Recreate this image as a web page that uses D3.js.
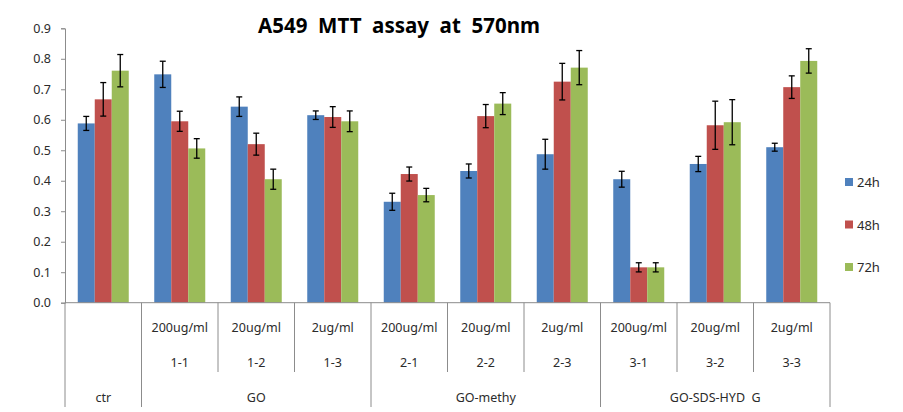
<!DOCTYPE html>
<html><head><meta charset="utf-8">
<script src="https://cdn.jsdelivr.net/npm/d3@7"></script>
<style>body{margin:0;background:#fff}svg{display:block}</style>
</head><body>
<svg id="c" width="903" height="412"></svg>
<script>
const title = "A549  MTT  assay  at  570nm";
const categories = ["ctr","1-1","1-2","1-3","2-1","2-2","2-3","3-1","3-2","3-3"];
const doseLabels = ["","200ug/ml","20ug/ml","2ug/ml","200ug/ml","20ug/ml","2ug/ml","200ug/ml","20ug/ml","2ug/ml"];
const codeLabels = ["","1-1","1-2","1-3","2-1","2-2","2-3","3-1","3-2","3-3"];
const groupNames = ["ctr","GO","GO-methy","GO-SDS-HYD  G"];
const groupSizes = [1,3,3,3];
const seriesNames = ["24h","48h","72h"];
const seriesColors = ["#4F81BD","#C0504D","#9BBB59"];
const values24 = [0.588,0.749,0.643,0.615,0.331,0.432,0.487,0.405,0.455,0.510];
const values48 = [0.667,0.595,0.520,0.609,0.422,0.612,0.725,0.116,0.582,0.707];
const values72 = [0.761,0.506,0.405,0.595,0.353,0.653,0.771,0.116,0.592,0.793];
const err24 = [0.023,0.043,0.032,0.014,0.028,0.023,0.049,0.026,0.025,0.013];
const err48 = [0.055,0.033,0.036,0.034,0.023,0.038,0.060,0.015,0.079,0.037];
const err72 = [0.053,0.032,0.033,0.034,0.022,0.036,0.056,0.015,0.074,0.040];
const yTicks = [0,0.1,0.2,0.3,0.4,0.5,0.6,0.7,0.8,0.9];

const svg = d3.select("#c");
const font = "'Noto Sans', 'DejaVu Sans', sans-serif";
const axisColor = "#8c8c8c";
const textColor = "#2b2b2b";

const x0 = d3.scaleBand().domain(categories).range([65, 830]).padding(0);
const bw = x0.bandwidth();
const x1 = d3.scaleBand().domain(seriesNames)
  .range([bw * 0.75 / 4.5, bw - bw * 0.75 / 4.5]).padding(0);
const y = d3.scaleLinear().domain([0, 0.9]).range([302.7, 28.3]);

// y axis
const yAxis = d3.axisLeft(y).tickValues(yTicks).tickFormat(d3.format(".1f")).tickSize(4).tickPadding(10);
const gy = svg.append("g").attr("transform", "translate(65,0)").call(yAxis);
gy.select(".domain").attr("stroke", axisColor);
gy.selectAll(".tick line").attr("stroke", axisColor);
gy.selectAll(".tick text").attr("font-family", font).attr("font-size", 12.5).attr("fill", textColor);

// bars
const series = [
  {name: seriesNames[0], vals: values24, errs: err24, color: seriesColors[0]},
  {name: seriesNames[1], vals: values48, errs: err48, color: seriesColors[1]},
  {name: seriesNames[2], vals: values72, errs: err72, color: seriesColors[2]}
];
const barsG = svg.append("g");
series.forEach(s => {
  const g = barsG.append("g");
  g.selectAll("rect").data(categories).join("rect")
    .attr("x", c => x0(c) + x1(s.name))
    .attr("width", x1.bandwidth())
    .attr("y", (c, i) => y(s.vals[i]))
    .attr("height", (c, i) => y(0) - y(s.vals[i]))
    .attr("fill", s.color);
});
// error bars
series.forEach(s => {
  const g = barsG.append("g").attr("stroke", "#000").attr("stroke-width", 1.3);
  categories.forEach((c, i) => {
    const cx = x0(c) + x1(s.name) + x1.bandwidth() / 2;
    const top = y(s.vals[i] + s.errs[i]), bot = y(s.vals[i] - s.errs[i]);
    g.append("line").attr("x1", cx).attr("x2", cx).attr("y1", top).attr("y2", bot);
    g.append("line").attr("x1", cx - 3).attr("x2", cx + 3).attr("y1", top).attr("y2", top);
    g.append("line").attr("x1", cx - 3).attr("x2", cx + 3).attr("y1", bot).attr("y2", bot);
  });
});

// x axis baseline
const y0 = y(0);
svg.append("line").attr("x1", 65).attr("x2", 830).attr("y1", y0).attr("y2", y0).attr("stroke", axisColor);

// category separators
const groupStarts = [];
let acc = 0;
groupSizes.forEach(n => { groupStarts.push(acc); acc += n; });
const boundaries = d3.range(categories.length + 1);
svg.append("g").selectAll("line").data(boundaries).join("line")
  .attr("x1", i => i < categories.length ? x0(categories[i]) : x0(categories[i-1]) + bw)
  .attr("x2", i => i < categories.length ? x0(categories[i]) : x0(categories[i-1]) + bw)
  .attr("y1", y0)
  .attr("y2", i => (groupStarts.includes(i) || i === categories.length) ? 407 : 372)
  .attr("stroke", axisColor);

// row labels
svg.append("g").selectAll("text").data(categories).join("text")
  .attr("x", c => x0(c) + bw / 2).attr("y", 327)
  .attr("text-anchor", "middle").attr("dominant-baseline", "central")
  .attr("font-family", font).attr("font-size", 12.5).attr("fill", textColor)
  .text((c, i) => doseLabels[i]);
svg.append("g").selectAll("text").data(categories).join("text")
  .attr("x", c => x0(c) + bw / 2).attr("y", 362)
  .attr("text-anchor", "middle").attr("dominant-baseline", "central")
  .attr("font-family", font).attr("font-size", 12.5).attr("fill", textColor)
  .text((c, i) => codeLabels[i]);
svg.append("g").selectAll("text").data(groupNames).join("text")
  .attr("x", (g, i) => {
    const a = x0(categories[groupStarts[i]]);
    const b = x0(categories[groupStarts[i] + groupSizes[i] - 1]) + bw;
    return (a + b) / 2;
  })
  .attr("y", 397)
  .attr("text-anchor", "middle").attr("dominant-baseline", "central")
  .attr("font-family", font).attr("font-size", 12.5).attr("fill", textColor)
  .style("white-space", "pre")
  .text(g => g);

// title
svg.append("text").attr("x", 399).attr("y", 32.5)
  .attr("text-anchor", "middle").attr("font-family", font)
  .attr("font-weight", "bold").attr("font-size", 20.5).attr("fill", "#000")
  .style("white-space", "pre")
  .text(title);

// legend
const legendY = [182, 224.5, 267];
const lg = svg.append("g");
series.forEach((s, i) => {
  lg.append("rect").attr("x", 845).attr("y", legendY[i] - 4).attr("width", 8).attr("height", 8).attr("fill", s.color);
  lg.append("text").attr("x", 857).attr("y", legendY[i]).attr("dominant-baseline", "central")
    .attr("font-family", font).attr("font-size", 13).attr("fill", textColor).text(s.name);
});
</script>
</body></html>
